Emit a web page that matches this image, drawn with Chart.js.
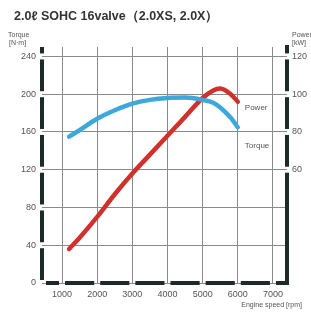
<!DOCTYPE html>
<html>
<head>
<meta charset="utf-8">
<script src="https://cdn.jsdelivr.net/npm/chart.js@4"></script>
<style>
  html, body { margin: 0; padding: 0; background: #fff; }
  #wrap { position: relative; width: 311px; height: 313px; }
</style>
</head>
<body>
<div id="wrap"><canvas id="engineChart" width="311" height="313"></canvas></div>
<script>
// engine speed samples (rpm)
const rpm = [1200, 1500, 2000, 2500, 3000, 3500, 4000, 4500, 5000, 5300, 5500, 5800, 6000];
// torque in N·m (left axis)
const torque = [155, 162, 174, 183, 190, 194, 196, 196.5, 194, 191, 186, 175, 165];
// power in kW (right axis)
const power = [18, 24, 35, 47, 58, 68, 78, 88, 98, 102, 103, 100, 96];

const rpmTicks = [1000, 2000, 3000, 4000, 5000, 6000, 7000];
const torqueTicks = [0, 40, 80, 120, 160, 200, 240];
const powerTicks = [60, 80, 100, 120];

const titleText = '2.0ℓ SOHC 16valve（2.0XS, 2.0X）';

const toPoints = (xs, ys) => xs.map((x, i) => ({ x: x, y: ys[i] }));

const decorations = {
    id: 'decorations',
    afterDraw(chart) {
        const ctx = chart.ctx;
        const area = chart.chartArea;
        const sx = chart.scales.x, sy = chart.scales.y, sy1 = chart.scales.y1;
        const ink = '#1e2a28';
        ctx.save();
        ctx.fillStyle = ink;
        const gap = 3, w = 4;

        // left bar, broken at each torque tick
        let prev = area.top;
        torqueTicks.slice().reverse().forEach(t => {
            const p = sy.getPixelForValue(t);
            if (p - gap > prev) ctx.fillRect(area.left - w / 2, prev, w, p - gap - prev);
            prev = p + gap;
        });

        // bottom bar, broken at each rpm tick
        prev = area.left + 4;
        rpmTicks.forEach(r => {
            const p = sx.getPixelForValue(r);
            ctx.fillRect(prev, area.bottom - w / 2, p - gap - prev, w);
            prev = p + gap;
        });
        ctx.fillRect(prev, area.bottom - w / 2, area.right + w / 2 - prev, w);

        // right bar, broken at labelled power ticks
        prev = area.top - 2;
        powerTicks.slice().reverse().forEach(t => {
            const p = sy1.getPixelForValue(t);
            if (p - gap > prev) ctx.fillRect(area.right - w / 2, prev, w, p - gap - prev);
            prev = p + gap;
        });
        ctx.fillRect(area.right - w / 2, prev, w, area.bottom + w / 2 - prev);

        // title
        ctx.fillStyle = '#333';
        ctx.font = 'bold 12.5px "Liberation Sans", Arial, sans-serif';
        ctx.textBaseline = 'alphabetic';
        ctx.textAlign = 'left';
        ctx.fillText(titleText, 14, 20);

        // axis units
        ctx.fillStyle = '#555';
        ctx.font = '7px "Liberation Sans", Arial, sans-serif';
        ctx.fillText('Torque', 8, 37);
        ctx.fillText('[N·m]', 9, 45);
        ctx.fillText('Power', 292, 37);
        ctx.fillText('[kW]', 292, 45);
        ctx.textAlign = 'right';
        ctx.fillText('Engine speed [rpm]', 302, 307);

        // series labels
        ctx.textAlign = 'left';
        ctx.font = '8px "Liberation Sans", Arial, sans-serif';
        ctx.fillText('Power', sx.getPixelForValue(6200), sy.getPixelForValue(183));
        ctx.fillText('Torque', sx.getPixelForValue(6200), sy.getPixelForValue(143));
        ctx.restore();
    }
};

new Chart(document.getElementById('engineChart'), {
    type: 'line',
    data: {
        datasets: [{
            label: 'Torque',
            data: toPoints(rpm, torque),
            yAxisID: 'y',
            borderColor: '#3ea8da',
            borderWidth: 4.5,
            pointRadius: 0,
            cubicInterpolationMode: 'monotone',
            borderCapStyle: 'round'
        }, {
            label: 'Power',
            data: toPoints(rpm, power),
            yAxisID: 'y1',
            borderColor: '#d0312b',
            borderWidth: 4.5,
            pointRadius: 0,
            cubicInterpolationMode: 'monotone',
            borderCapStyle: 'round'
        }]
    },
    options: {
        responsive: false,
        animation: false,
        events: [],
        layout: { padding: { top: 47 } },
        plugins: {
            legend: { display: false },
            tooltip: { enabled: false },
            title: { display: false }
        },
        scales: {
            x: {
                type: 'linear',
                min: 430,
                max: 7400,
                afterBuildTicks: s => { s.ticks = rpmTicks.map(v => ({ value: v })); },
                afterFit: s => { s.height = 30; },
                grid: { color: '#8a8a8a', lineWidth: 1, drawTicks: false },
                border: { display: false },
                ticks: {
                    color: '#555',
                    padding: 6,
                    maxRotation: 0,
                    callback: v => String(v),
                    font: { size: 9, family: '"Liberation Sans", Arial, sans-serif' }
                }
            },
            y: {
                position: 'left',
                min: 0,
                max: 250,
                afterBuildTicks: s => { s.ticks = torqueTicks.map(v => ({ value: v })); },
                afterFit: s => { s.width = 42; },
                grid: { color: '#8a8a8a', lineWidth: 1, drawTicks: false },
                border: { display: false },
                ticks: {
                    color: '#555',
                    padding: 6,
                    font: { size: 9, family: '"Liberation Sans", Arial, sans-serif' }
                }
            },
            y1: {
                position: 'right',
                min: 0,
                max: 125,
                afterBuildTicks: s => { s.ticks = powerTicks.map(v => ({ value: v })); },
                afterFit: s => { s.width = 24; },
                grid: { display: false, drawTicks: false },
                border: { display: false },
                ticks: {
                    color: '#555',
                    padding: 5,
                    font: { size: 9, family: '"Liberation Sans", Arial, sans-serif' }
                }
            }
        }
    },
    plugins: [decorations]
});
</script>
</body>
</html>
